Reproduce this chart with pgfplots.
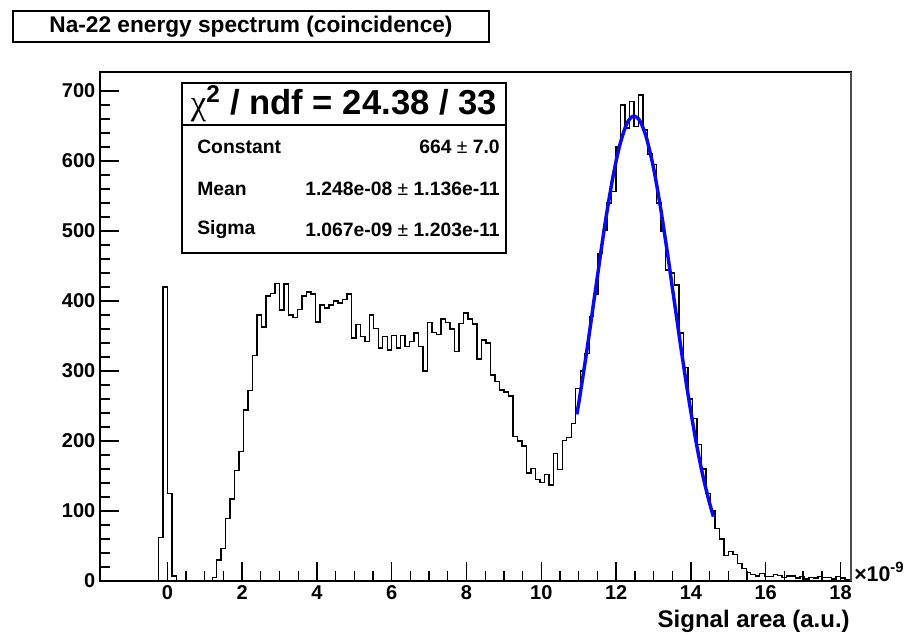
\documentclass[border=0pt]{standalone}
\usepackage{pgfplots}
\pgfplotsset{compat=1.18}
\usepackage{pgfplotstable}
\usepackage{fontspec}
\setmainfont{Liberation Sans}
\newfontfamily\serifchi{Liberation Serif}

\pgfplotstableread{
x y
-0.36 0
-0.24 62
-0.12 420
0.00 125
0.12 7
0.24 0
1.08 0
1.20 5
1.32 30
1.44 46
1.56 89
1.68 117
1.80 158
1.92 185
2.04 244
2.16 272
2.28 322
2.40 380
2.52 363
2.64 407
2.76 411
2.88 425
3.00 387
3.12 424
3.24 380
3.36 376
3.48 388
3.60 407
3.72 413
3.84 410
3.96 370
4.08 394
4.20 390
4.32 394
4.44 400
4.56 397
4.68 402
4.80 410
4.92 347
5.04 366
5.16 349
5.28 342
5.40 380
5.52 361
5.64 333
5.76 349
5.88 330
6.00 351
6.12 333
6.24 351
6.36 335
6.48 342
6.60 354
6.72 335
6.84 300
6.96 369
7.08 355
7.20 352
7.32 374
7.44 369
7.56 360
7.68 328
7.80 368
7.92 383
8.04 374
8.16 367
8.28 317
8.40 344
8.52 340
8.64 294
8.76 285
8.88 273
9.00 270
9.12 264
9.24 206
9.36 200
9.48 193
9.60 154
9.72 161
9.84 145
9.96 141
10.08 152
10.20 137
10.32 182
10.44 159
10.56 201
10.68 205
10.80 225
10.92 275
11.04 300
11.16 325
11.28 378
11.40 410
11.52 468
11.64 501
11.76 540
11.88 556
12.00 620
12.12 680
12.24 647
12.36 685
12.48 649
12.60 694
12.72 644
12.84 610
12.96 595
13.08 540
13.20 500
13.32 444
13.44 440
13.56 423
13.68 354
13.80 305
13.92 260
14.04 232
14.16 195
14.28 160
14.40 125
14.52 100
14.64 75
14.76 60
14.88 36
15.00 42
15.12 38
15.24 25
15.36 18
15.48 12
15.60 9
15.72 7
15.84 11
15.96 6
16.08 6
16.20 9
16.32 8
16.44 5
16.56 7
16.68 7
16.80 4
16.92 6
17.04 3
17.16 5
17.28 4
17.40 6
17.52 5
17.64 5
17.76 3
17.88 6
18.00 4
18.12 2
18.24 2
18.36 2
}\histdata

\pgfplotstableread{
x y
10.95 238
11.0 254
11.1 288
11.2 323
11.3 360
11.4 398
11.5 435
11.6 473
11.7 509
11.8 542
11.9 573
12.0 600
12.1 623
12.2 641
12.3 655
12.4 662
12.48 664
12.6 660
12.7 650
12.8 635
12.9 614
13.0 590
13.1 561
13.2 529
13.3 494
13.4 458
13.5 420
13.6 383
13.7 345
13.8 309
13.9 274
14.0 241
14.1 210
14.2 181
14.3 155
14.4 132
14.5 111
14.6 92
}\fitdata

\begin{document}
\begin{tikzpicture}
\begin{axis}[
  at={(75pt,39.75pt)}, anchor=south west,
  width=563.25pt, height=381.75pt, scale only axis,
  xmin=-1.8, xmax=18.28, ymin=0, ymax=727,
  xtick={0,2,...,18}, ytick={0,100,...,700},
  minor x tick num=3, minor y tick num=4,
  tick align=inside, tick pos=left,
  major tick length=14pt, minor tick length=7.5pt,
  axis line style={line width=0.8pt},
  every tick/.style={black, line width=1pt},
  /pgf/number format/assume math mode=true,
  ticklabel style={font=\fontsize{15}{15}\selectfont\bfseries},
  scaled x ticks=false,
  clip mode=individual,
]
\addplot[const plot, black, line width=1.05pt] table[x=x,y=y] {\histdata};
\addplot[smooth, color={rgb,255:red,10;green,10;blue,240}, line width=2.6pt] table[x=x,y=y] {\fitdata};
\draw[line width=2pt, line cap=rect] (rel axis cs:1,1) -- (rel axis cs:0,1) -- (rel axis cs:0,0) -- (rel axis cs:1,0);
\draw[line width=1.1pt, black!70] (rel axis cs:1,0) -- (rel axis cs:1,1);
\end{axis}
% title box
\draw[line width=0.8pt, fill=white] (9.75pt,444pt) rectangle (366.75pt,467.25pt);
\node[font=\fontsize{17}{17}\selectfont\bfseries] at (188.25pt,455.6pt) {Na-22 energy spectrum (coincidence)};
% stats box
\draw[line width=0.9pt, fill=white] (136.5pt,285.75pt) rectangle (379.5pt,413.25pt);
\draw[line width=0.9pt] (136.5pt,381.75pt) -- (379.5pt,381.75pt);
\node[font=\fontsize{26}{26}\selectfont\bfseries] at (258pt,397.5pt) {{\serifchi\mdseries χ}\textsuperscript{2} / ndf = 24.38 / 33};
\node[anchor=west, inner sep=0pt, font=\fontsize{14.5}{14.5}\selectfont\bfseries] at (147.75pt,365.25pt) {Constant};
\node[anchor=west, inner sep=0pt, font=\fontsize{14.5}{14.5}\selectfont\bfseries] at (147.75pt,333.75pt) {Mean};
\node[anchor=west, inner sep=0pt, font=\fontsize{14.5}{14.5}\selectfont\bfseries] at (147.75pt,303pt) {Sigma};
\node[anchor=east, inner sep=0pt, font=\fontsize{14.5}{14.5}\selectfont\bfseries] at (375pt,365.25pt) {664 {\mdseries ±} 7.0};
\node[anchor=east, inner sep=0pt, font=\fontsize{14.5}{14.5}\selectfont\bfseries] at (375pt,333.75pt) {1.248e-08 {\mdseries ±} 1.136e-11};
\node[anchor=east, inner sep=0pt, font=\fontsize{14.5}{14.5}\selectfont\bfseries] at (375pt,303pt) {1.067e-09 {\mdseries ±} 1.203e-11};
% axis label and multiplier
\node[anchor=east, inner sep=0pt, font=\fontsize{18}{18}\selectfont\bfseries] at (637.5pt,9.75pt) {Signal area (a.u.)};
\node[anchor=west, font=\fontsize{16}{16}\selectfont\bfseries, inner sep=0pt] at (640.5pt,46.5pt) {×10\textsuperscript{-9}};
\pgfresetboundingbox
\path (0,0) rectangle (681.75pt,475.5pt);
\end{tikzpicture}
\end{document}
